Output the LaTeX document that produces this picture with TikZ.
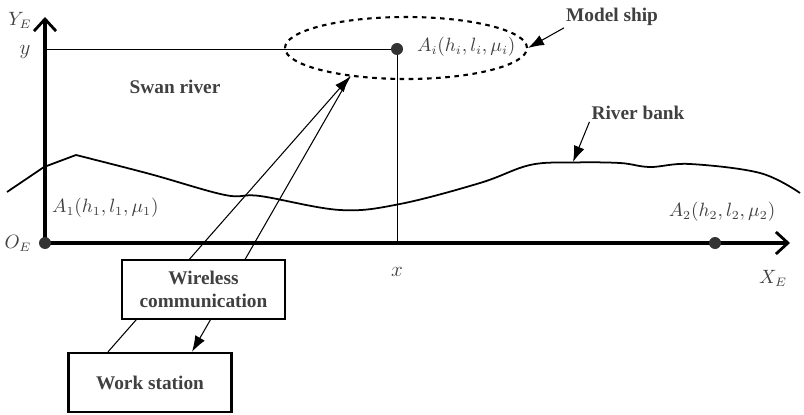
\documentclass[tikz,border=0pt]{standalone}
\usepackage{amssymb}
\usepackage{amsmath}
\usepackage{fontspec}
\setmainfont{Liberation Serif}
\usetikzlibrary{arrows.meta,shapes.geometric}
\definecolor{labelgray}{gray}{0.25}
\definecolor{dotgray}{gray}{0.2}
\tikzset{
  axisline/.style={line width=1.8pt, -{Straight Barb[length=2.4mm,width=4.4mm,line width=1.6pt]}},
  thinline/.style={line width=0.5pt},
  tag/.style={font=\fontsize{11}{13}\selectfont\bfseries, text=labelgray, inner sep=1pt},
  mathtag/.style={font=\fontsize{10.5}{12}\selectfont, text=labelgray, inner sep=1pt},
  box/.style={draw, line width=1.3pt, fill=white, minimum width=3.26cm, minimum height=1.18cm, align=center, font=\fontsize{11}{13}\selectfont\bfseries, text=labelgray},
  pointer/.style={line width=0.6pt, -{Latex[length=3.2mm,width=2.2mm]}},
  dotmark/.style={circle, fill=dotgray, inner sep=0pt, minimum size=0.24cm}
}

\begin{document}
\begin{tikzpicture}
            \useasboundingbox (0,0) rectangle (16.08,8.28);
            % axes
            \coordinate (oe) at (0.90,3.42);
            \coordinate (ye) at (0.90,7.94);
            \coordinate (xe) at (15.80,3.42);
            \coordinate (yfoot) at (0.90,7.30);
            \coordinate (xfoot) at (7.94,3.42);
            \draw [thinline] (yfoot) -- (7.94,7.30) -- (xfoot);
            \draw [axisline] (oe) -- (ye);
            \draw [axisline] (oe) -- (xe);
            \node (origin) [dotmark] at (oe) {};
            \node (ship) [dotmark] at (7.94,7.30) {};
            \node (anchortwo) [dotmark] at (14.30,3.42) {};
            \node (ylabel) [mathtag] at (0.40,7.88) {$Y_E$};
            \node (yval) [mathtag, font=\fontsize{13}{15}\selectfont] at (0.50,7.24) {$y$};
            \node (olabel) [mathtag] at (0.36,3.42) {$O_E$};
            \node (xval) [mathtag, font=\fontsize{13}{15}\selectfont] at (7.94,2.84) {$x$};
            \node (xlabel) [mathtag] at (15.46,2.72) {$X_E$};
            \node (aone) [mathtag, anchor=west] at (1.00,4.12) {$A_1(h_1,l_1,\mu_1)$};
            \node (ai) [mathtag, anchor=west] at (8.30,7.34) {$A_i(h_i,l_i,\mu_i)$};
            \node (atwo) [mathtag] at (14.44,4.04) {$A_2(h_2,l_2,\mu_2)$};
            % ship region
            \node (region) [ellipse, draw, line width=1.2pt, dash pattern=on 2.6pt off 2.6pt, minimum width=4.84cm, minimum height=1.24cm, inner sep=0pt] at (8.12,7.32) {};
            % river bank
            \draw [line width=1pt] (0.14,4.44) -- (0.88,4.94) -- (1.52,5.18)
                plot [smooth, tension=0.6] coordinates {(1.52,5.18) (3.00,4.80) (4.50,4.38) (5.20,4.36) (6.80,4.08) (8.00,4.20) (9.60,4.62) (10.60,4.98) (11.46,5.03) (12.40,5.02) (13.00,4.94) (13.80,5.00) (15.20,4.82) (16.00,4.42)};
            \coordinate (bankpeak) at (11.46,5.04);
            \node (swan) [tag] at (3.50,6.54) {Swan river};
            \node (shiptag) [tag] at (12.24,7.94) {Model ship};
            \node (banktag) [tag] at (12.76,6.02) {River bank};
            \draw [pointer] (shiptag.south west) -- (region.east);
            \draw [pointer] (banktag.south west) -- (bankpeak);
            % communication
            \node (station) [box] at (3.00,0.63) {Work station};
            \draw [pointer] ([xshift=-0.84cm]station.north) -- (region.207);
            \draw [pointer] (region.207) -- ([xshift=0.84cm]station.north);
            \node (wireless) [box] at (4.07,2.49) {Wireless\\communication};
        \end{tikzpicture}
\end{document}
